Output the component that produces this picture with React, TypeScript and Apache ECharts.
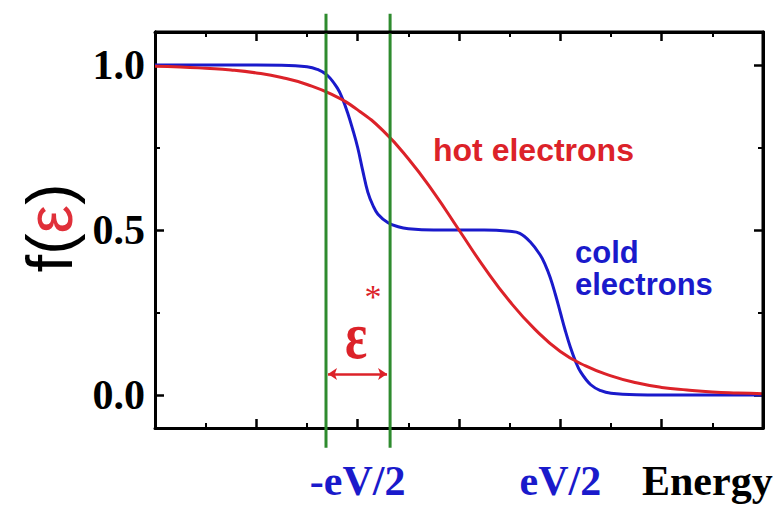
import React, { useEffect, useRef } from "react";
import * as echarts from "echarts";

// Hot electrons distribution
const hotX = [-6, -5.5, -5, -4.5, -4, -3.5, -3, -2.5, -2, -1.5, -1, -0.5, 0, 0.5, 1, 1.5, 2, 2.5, 3, 3.5, 4, 4.5, 5, 5.5, 6];
const hotF = [0.996, 0.994, 0.99, 0.985, 0.976, 0.962, 0.941, 0.91, 0.864, 0.801, 0.716, 0.614, 0.5, 0.386, 0.284, 0.199, 0.132, 0.088, 0.058, 0.037, 0.023, 0.015, 0.009, 0.006, 0.004];

// Cold electrons (double step) distribution
const coldX = [-6, -5, -4, -3.5, -3, -2.8, -2.6, -2.4, -2.3, -2.2, -2.1, -2, -1.9, -1.8, -1.7, -1.6, -1.4, -1.2, -1, -0.5, 0, 0.5, 1, 1.2, 1.4, 1.6, 1.7, 1.8, 1.9, 2, 2.1, 2.2, 2.3, 2.4, 2.6, 2.8, 3, 3.5, 4, 5, 6];
const coldF = [1, 1, 1, 0.9995, 0.995, 0.987, 0.969, 0.93, 0.898, 0.856, 0.806, 0.75, 0.68, 0.615, 0.575, 0.548, 0.522, 0.51, 0.504, 0.5, 0.5, 0.5, 0.496, 0.49, 0.465, 0.425, 0.395, 0.356, 0.306, 0.25, 0.194, 0.144, 0.102, 0.07, 0.031, 0.013, 0.005, 0.0005, 0, 0, 0];

// Vertical green markers and the epsilon* arrow
const greenX = [-2.625, -1.36];
const greenYSpan = [1.155, -0.16];
const arrowX = [-2.585, -1.42];
const arrowY = 0.064;

// Axis ranges and tick labels
const xRange = [-6, 6];
const yRange = [-0.1, 1.1];
const yMajor = [0, 0.5, 1];
const yMinor = [0.25, 0.75];
const xLabelValues = [-2, 2];
const xLabelTexts = ["-eV/2", "eV/2"];

const RED = "#dc2229";
const BLUE = "#1a1acb";
const GREEN = "#2e8b2e";
const SERIF = "'Liberation Serif', 'Times New Roman', serif";
const SANS = "'Liberation Sans', Arial, sans-serif";

export default function App() {
  const ref = useRef<HTMLDivElement>(null);
  useEffect(() => {
    if (!ref.current) return;
    const chart = echarts.init(ref.current, null, { renderer: "svg" });

    const xCommon = (pos: string, labels: boolean) => ({
      type: "value",
      min: xRange[0],
      max: xRange[1],
      interval: 2,
      position: pos,
      axisLine: { show: true, onZero: false, lineStyle: { color: "#000", width: 3 } },
      axisTick: { show: true, inside: true, length: 9, lineStyle: { color: "#000", width: 2.5 } },
      minorTick: { show: true, splitNumber: 2, length: 5, lineStyle: { color: "#000", width: 2 } },
      splitLine: { show: false },
      axisLabel: labels
        ? {
            show: true,
            margin: 53,
            verticalAlign: "middle",
            color: BLUE,
            fontFamily: SERIF,
            fontWeight: "bold",
            fontSize: 42,
            formatter: (v: number) => {
              const i = xLabelValues.indexOf(v);
              return i >= 0 ? xLabelTexts[i] : "";
            },
          }
        : { show: false },
    });

    const yCommon = (pos: string, major: boolean, labels: boolean) => ({
      type: "value",
      min: yRange[0],
      max: yRange[1],
      position: pos,
      axisLine: { show: true, onZero: false, lineStyle: { color: "#000", width: 3 } },
      axisTick: {
        show: true,
        inside: true,
        length: major ? 9 : 5,
        customValues: major ? yMajor : yMinor,
        lineStyle: { color: "#000", width: major ? 2.5 : 2 },
      },
      splitLine: { show: false },
      axisLabel: labels
        ? {
            show: true,
            customValues: yMajor,
            margin: 10,
            color: "#000",
            fontFamily: SERIF,
            fontWeight: "bold",
            fontSize: 42,
            formatter: (v: number) => v.toFixed(1),
          }
        : { show: true, customValues: major ? yMajor : yMinor, color: "rgba(0,0,0,0)", fontSize: 1 },
    });

    const frameLine = (data: number[][]) => ({
      type: "line",
      data,
      clip: false,
      silent: true,
      showSymbol: false,
      symbol: "none",
      lineStyle: { color: "#000", width: 3 },
      z: 6,
    });

    chart.setOption({
      animation: false,
      grid: { left: 155, right: 14, top: 32, bottom: 77, outerBoundsMode: "none" },
      xAxis: [xCommon("bottom", true), xCommon("top", false)],
      yAxis: [
        yCommon("left", true, true),
        yCommon("left", false, false),
        yCommon("right", true, false),
        yCommon("right", false, false),
      ],
      series: [
        {
          type: "line",
          data: coldX.map((x, i) => [x, coldF[i]]),
          smooth: 0.4,
          showSymbol: false,
          symbol: "none",
          lineStyle: { color: BLUE, width: 3 },
          z: 3,
        },
        {
          type: "line",
          data: hotX.map((x, i) => [x, hotF[i]]),
          smooth: 0.5,
          showSymbol: false,
          symbol: "none",
          lineStyle: { color: RED, width: 3 },
          z: 4,
        },
        ...greenX.map((gx) => ({
          type: "line",
          data: greenYSpan.map((gy) => [gx, gy]),
          clip: false,
          showSymbol: false,
          symbol: "none",
          lineStyle: { color: GREEN, width: 3 },
          z: 5,
        })),
        frameLine([
          [xRange[0], yRange[1]],
          [xRange[1], yRange[1]],
          [xRange[1], yRange[0]],
        ]),
        {
          type: "line",
          data: [],
          markLine: {
            silent: true,
            symbol: ["arrow", "arrow"],
            symbolSize: 9,
            label: { show: false },
            lineStyle: { color: RED, width: 2.5, type: "solid" },
            data: [[{ coord: [arrowX[0], arrowY] }, { coord: [arrowX[1], arrowY] }]],
          },
        },
      ],
      graphic: [
        {
          type: "text",
          x: 50,
          y: 228,
          rotation: Math.PI / 2,
          style: {
            text: "{a|f(}{b|ε}{a|)}",
            align: "center",
            verticalAlign: "middle",
            rich: {
              a: { fill: "#000", fontSize: 64, fontFamily: SANS },
              b: { fill: "#e0303a", fontSize: 64, fontFamily: SANS },
            },
          },
        },
        {
          type: "text",
          x: 433,
          y: 150,
          style: { text: "hot electrons", fill: RED, font: `bold 32px ${SANS}`, align: "left", verticalAlign: "middle" },
        },
        {
          type: "text",
          x: 575,
          y: 268,
          style: { text: "cold\nelectrons", fill: BLUE, font: `bold 31px ${SANS}`, lineHeight: 32, align: "left", verticalAlign: "middle" },
        },
        {
          type: "text",
          x: 356,
          y: 335,
          scaleY: 1.3,
          style: { text: "ε", fill: RED, font: `bold 52px ${SERIF}`, align: "center", verticalAlign: "middle" },
        },
        {
          type: "text",
          x: 373,
          y: 296,
          style: { text: "*", fill: RED, font: `34px ${SERIF}`, align: "center", verticalAlign: "middle" },
        },
        {
          type: "text",
          x: 642,
          y: 481,
          style: { text: "Energy", fill: "#000", font: `bold 42px ${SERIF}`, align: "left", verticalAlign: "middle" },
        },
      ],
    });
    return () => chart.dispose();
  }, []);
  return <div ref={ref} style={{ position: "absolute", left: 0, top: 0, width: 777, height: 505 }} />;
}
